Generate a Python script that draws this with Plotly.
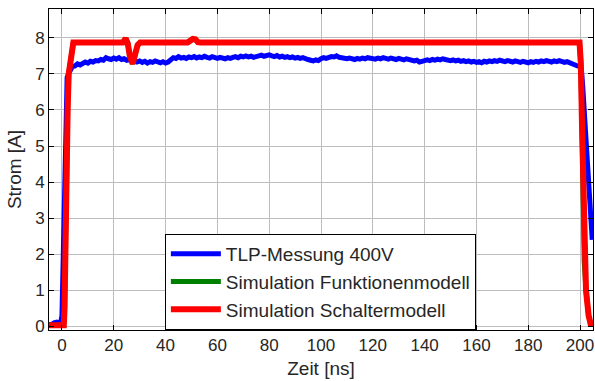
import plotly.graph_objects as go

# ---- data ----
blue_t = [-5, -4, -3, -2, -1, -0.5, 0, 0.5, 1, 1.5, 2, 2.5, 3, 4] + list(range(5, 200)) + \
         [200, 200.5, 201, 202, 203, 204, 204.7]
blue_pre = [0.05, 0.05, 0.10, 0.12, 0.08, 0.10, 0.3, 2.0, 4.3, 6.0, 6.9, 7.0, 7.1, 7.2]
blue_mid = [
    7.22, 7.28, 7.25, 7.30, 7.33, 7.30,
    7.35, 7.33, 7.37, 7.36, 7.40, 7.38, 7.45, 7.42, 7.40, 7.44,
    7.41, 7.45, 7.40, 7.42, 7.38, 7.40, 7.35, 7.38, 7.33, 7.36,
    7.32, 7.35, 7.30, 7.34, 7.32, 7.36, 7.33, 7.31, 7.34, 7.30,
    7.33, 7.40, 7.45, 7.43, 7.48, 7.44, 7.46, 7.43, 7.47, 7.45,
    7.48, 7.44, 7.47, 7.45, 7.49, 7.46, 7.44, 7.48, 7.45, 7.43,
    7.46, 7.44, 7.42, 7.45, 7.43, 7.46, 7.48, 7.45, 7.49, 7.47,
    7.50, 7.47, 7.49, 7.46, 7.48, 7.50, 7.52, 7.49, 7.51, 7.53,
    7.50, 7.48, 7.51, 7.47, 7.49, 7.46, 7.48, 7.45, 7.47, 7.44,
    7.46, 7.43, 7.45, 7.41, 7.40, 7.38, 7.36, 7.39, 7.37, 7.42,
    7.45, 7.43, 7.46, 7.48, 7.47, 7.50, 7.46, 7.44, 7.45, 7.42,
    7.44, 7.41, 7.40, 7.43, 7.41, 7.44, 7.42, 7.45, 7.43, 7.44,
    7.41, 7.44, 7.42, 7.45, 7.43, 7.41, 7.44, 7.42, 7.40, 7.43,
    7.41, 7.39, 7.42, 7.40, 7.38, 7.36, 7.38, 7.33, 7.35, 7.37,
    7.39, 7.37, 7.40, 7.38, 7.41, 7.39, 7.42, 7.40, 7.38, 7.37,
    7.39, 7.36, 7.38, 7.35, 7.37, 7.34, 7.36, 7.33, 7.35, 7.32,
    7.34, 7.31, 7.35, 7.33, 7.36, 7.34, 7.37, 7.35, 7.38, 7.36,
    7.34, 7.37, 7.35, 7.33, 7.36, 7.34, 7.32, 7.35, 7.33, 7.31,
    7.34, 7.32, 7.35, 7.33, 7.36, 7.34, 7.37, 7.35, 7.33, 7.36,
    7.34, 7.37, 7.35, 7.32, 7.34, 7.30, 7.27, 7.25, 7.22,
]
blue_post = [7.2, 7.15, 6.7, 5.5, 4.3, 3.0, 2.4]
blue_v = blue_pre + blue_mid + blue_post

red_t = [-5, 0.7, 1.0, 1.2, 1.5, 1.7, 2.0, 2.2, 2.6, 3.1, 3.7, 4.4,
         23.5, 24.6, 25.4, 26.2, 27.3, 28.3, 29.2, 30.2,
         48.5, 50.5, 51.5, 52.5, 53.5,
         199.8, 200.3, 200.8, 201.1, 201.6, 202.3, 203.3, 204.3]
red_v = [0.03, 0.03, 0.5, 1.9, 2.5, 4.3, 4.4, 6.0, 7.0, 7.3, 7.7, 7.87,
         7.87, 7.98, 7.85, 7.5, 7.28, 7.5, 7.8, 7.87,
         7.87, 7.97, 7.96, 7.88, 7.87,
         7.87, 7.3, 5.4, 4.0, 1.8, 1.0, 0.3, 0.0]

green_t = red_t
green_v = red_v

x_ticks = list(range(0, 201, 20))
y_ticks = list(range(0, 9))

FONT = "Liberation Sans, Arial"
TXT = "#262626"

fig = go.Figure()
fig.add_trace(go.Scatter(x=blue_t, y=blue_v, mode="lines", name="TLP-Messung 400V",
                         line=dict(color="#0000ff", width=5)))
fig.add_trace(go.Scatter(x=green_t, y=green_v, mode="lines", name="Simulation Funktionenmodell",
                         line=dict(color="#008000", width=5)))
fig.add_trace(go.Scatter(x=red_t, y=red_v, mode="lines", name="Simulation Schaltermodell",
                         line=dict(color="#ff0000", width=6)))

axis_common = dict(showline=True, mirror="ticks", linecolor="black", linewidth=1,
                   ticks="inside", ticklen=5, tickcolor="black",
                   showgrid=True, gridcolor="#bdbdbd", gridwidth=1, zeroline=False,
                   tickfont=dict(family=FONT, size=17, color=TXT))

fig.update_xaxes(range=[-5, 205], tickvals=x_ticks,
                 title=dict(text="Zeit [ns]", font=dict(family=FONT, size=19, color=TXT),
                            standoff=7),
                 **axis_common)
fig.update_yaxes(range=[-0.1, 8.8], tickvals=y_ticks,
                 title=dict(text="Strom [A]", font=dict(family=FONT, size=19, color=TXT),
                            standoff=8),
                 **axis_common)

fig.update_layout(
    width=595, height=381,
    margin=dict(l=49, r=2, t=9, b=51),
    plot_bgcolor="white", paper_bgcolor="white",
    showlegend=True,
    legend=dict(x=0.213, y=0.0, xanchor="left", yanchor="bottom",
                bgcolor="white", bordercolor="black", borderwidth=1,
                font=dict(family=FONT, size=19, color=TXT),
                tracegroupgap=0, itemwidth=50),
)

fig.write_html("out.html")
